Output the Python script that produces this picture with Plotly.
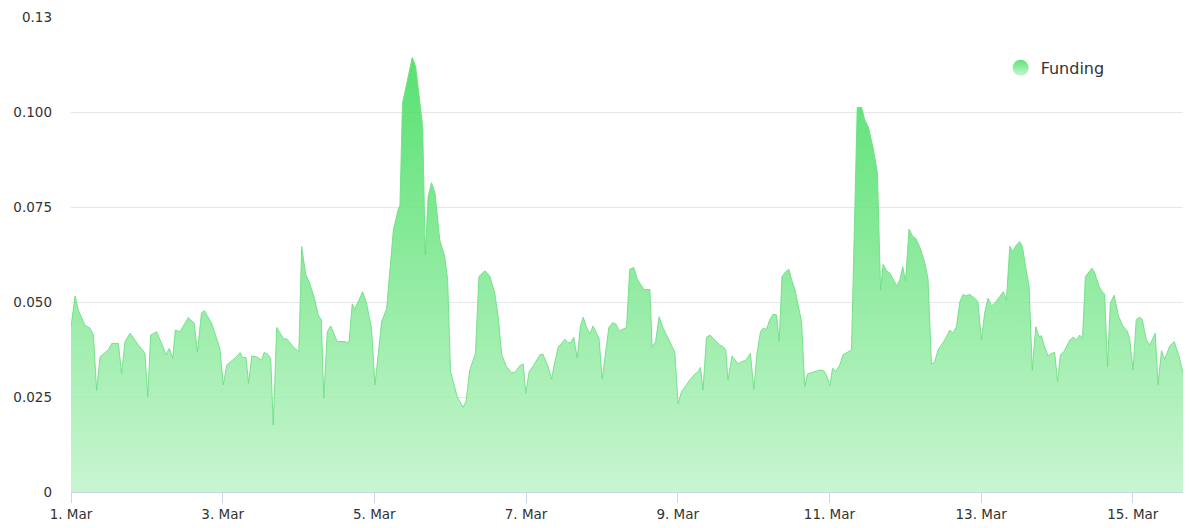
import pandas as pd
import plotly.graph_objects as go

# ---- data ----
start_date = "2024-03-01"
hours = [
    0, 1.3, 2.3, 4.4, 6.0, 7.1, 8.1, 9.2, 11.8, 12.9, 15.0, 16.0, 17.1, 18.7, 21.3, 23.4,
    24.3, 25.2, 27.1, 30.1, 31.1, 32.2, 33.0, 34.5, 37.1, 39.0, 40.0, 41.3, 42.2, 44.5, 47.1,
    48.2, 49.3, 52.4, 53.5, 54.3, 55.4, 56.2, 57.2, 58.7, 60.3, 61.1, 62.1, 63.2, 64.0, 65.1,
    67.2, 68.4, 70.3, 72.1, 73.0, 74.3, 75.4, 77.2, 78.2, 79.2, 80.0, 81.1, 82.2, 84.2, 86.7,
    87.4, 88.0, 89.0, 89.8, 92.3, 93.5, 95.1, 96.2, 98.3, 99.9, 102.0, 103.5, 104.1, 104.9,
    105.7, 106.7, 108.0, 109.1, 111.3, 112.1, 113.0, 114.1, 115.2, 116.7, 118.3, 119.2, 120.1,
    122.2, 124.1, 125.0, 126.2, 127.3, 128.0, 129.1, 131.0, 132.6, 134.1, 135.2, 136.3, 137.8,
    139.4, 140.5, 142.0, 143.1, 143.9, 145.0, 146.3, 148.4, 149.3, 151.0, 152.1, 152.8, 154.2,
    155.2, 156.3, 157.3, 158.1, 159.1, 160.2, 161.2, 162.1, 163.1, 164.2, 165.2, 167.1, 168.1,
    169.3, 170.2, 171.4, 172.4, 173.5, 174.5, 175.8, 176.8, 178.1, 179.2, 180.2, 181.3, 182.3,
    183.2, 183.9, 185.0, 186.1, 187.4, 189.0, 191.1, 192.1, 193.2, 194.8, 195.8, 197.4, 198.5,
    199.2, 200.0, 201.1, 202.2, 203.7, 205.3, 206.4, 207.2, 207.9, 209.2, 211.1, 212.2, 213.5,
    215.0, 216.1, 217.1, 218.2, 219.0, 220.1, 221.1, 222.2, 223.3, 224.1, 225.0, 226.2, 227.2,
    228.0, 229.1, 230.1, 231.2, 232.2, 233.1, 234.3, 235.9, 237.0, 238.2, 239.3, 240.1, 241.0,
    242.0, 243.3, 244.3, 245.4, 247.0, 248.8, 250.2, 251.2, 252.3, 253.9, 255.2, 256.2, 257.0,
    258.1, 259.1, 261.3, 262.3, 263.2, 264.1, 265.2, 266.4, 267.3, 268.8, 270.2, 271.2, 272.3,
    273.3, 274.4, 276.5, 278.1, 279.1, 280.2, 281.3, 282.3, 283.2, 284.4, 286.0, 287.0, 288.1,
    289.2, 290.2, 291.3, 292.3, 293.9, 295.0, 296.0, 297.1, 297.9, 299.2, 300.2, 301.1, 302.1,
    303.2, 304.2, 305.3, 306.3, 307.1, 308.1, 309.2, 310.3, 311.3, 312.2, 313.1, 314.2, 315.2,
    316.1, 317.1, 318.2, 319.2, 320.1, 321.0, 322.2, 323.1, 324.0, 325.3, 326.3, 327.1, 328.0,
    328.9, 330.1, 331.4, 332.7, 334.2, 335.0, 336.1, 337.1, 338.2, 339.0, 340.3, 341.4, 343.1,
    344.0, 345.1, 346.1, 347.7, 349.1, 350.7, 351.9,
]
funding = [
    .0435, .0516, .0479, .0439, .0431, .0413, .0267, .0356, .0374, .0391, .0391, .0312, .0396, .0418, .0387, .0365,
    .0251, .0413, .0422, .0361, .0378, .0352, .0426, .0422, .0459, .0444, .0369, .0472, .0477, .0444, .0378,
    .0282, .0334, .0356, .0367, .0354, .0354, .0286, .0358, .0356, .0347, .0367, .0364, .0352, .0176, .0433,
    .0404, .0402, .0382, .0369, .0646, .0571, .0553, .0505, .0466, .0453, .0247, .0422, .0437, .0396, .0396,
    .0393, .0396, .0495, .0481, .0527, .0498, .0431, .0282, .0448, .0483, .0689, .0742, .0755, .1023,
    .1058, .1093, .1144, .1119, .0961, .0624, .0777, .0814, .0786, .0663, .0619, .0558, .0317,
    .0251, .0223, .0238, .0321, .0352, .0365, .0567, .0582, .0567, .0523, .0461, .0361, .0330,
    .0314, .0315, .0332, .0337, .0260, .0317, .0332, .0361, .0363, .0330, .0297, .0330, .0382,
    .0391, .0402, .0393, .0393, .0407, .0352, .0437, .0460, .0435, .0416, .0437, .0404, .0297,
    .0374, .0433, .0446, .0442, .0424, .0428, .0433, .0586, .0591, .0560, .0547, .0533, .0533,
    .0533, .0382, .0396, .0461, .0431, .0404, .0367, .0232, .0264, .0282, .0295, .0310, .0317,
    .0328, .0268, .0407, .0413, .0400, .0387, .0382, .0374, .0295, .0358, .0337, .0343, .0346,
    .0365, .0270, .0365, .0422, .0431, .0428, .0453, .0468, .0466, .0396, .0567, .0580, .0586,
    .0560, .0533, .0492, .0448, .0277, .0311, .0314, .0317, .0321, .0320, .0303, .0279, .0326,
    .0317, .0334, .0361, .0367, .0374, .1012, .1012, .0979, .0961, .0904, .0839, .0532, .0599,
    .0582, .0576, .0543, .0558, .0593, .0555, .0692, .0672, .0668, .0641, .0602, .0562, .0336,
    .0343, .0374, .0400, .0426, .0418, .0435, .0501, .0520, .0516, .0520, .0510, .0501, .0400,
    .0474, .0510, .0489, .0497, .0514, .0527, .0505, .0647, .0632, .0650, .0659, .0646, .0593,
    .0540, .0321, .0435, .0409, .0411, .0382, .0358, .0365, .0367, .0290, .0361, .0369, .0387,
    .0400, .0407, .0400, .0413, .0404, .0567, .0580, .0589, .0576, .0542, .0527, .0521, .0330,
    .0497, .0518, .0466, .0439, .0424, .0404, .0321, .0454, .0460, .0454, .0400, .0387, .0418,
    .0282, .0372, .0349, .0384, .0396, .0356, .0312,
]
assert len(hours) == len(funding)

series_name = "Funding"
y_tick_vals = [0, 0.025, 0.05, 0.075, 0.1, 0.125]
y_tick_text = ["0", "0.025", "0.050", "0.075", "0.100", "0.13"]
x_tick_days = [1, 3, 5, 7, 9, 11, 13, 15]
x_tick_text = [f"{d}. Mar" for d in x_tick_days]

# ---- build ----
base = pd.Timestamp(start_date)
times = base + pd.to_timedelta(hours, unit="h")
x_tick_vals = [base + pd.Timedelta(days=d - 1) for d in x_tick_days]

FONT = "DejaVu Sans"
TEXT = "#333333"

fig = go.Figure()
fig.add_trace(go.Scatter(
    x=times, y=funding, mode="lines", name=series_name, showlegend=False,
    line=dict(color="rgba(110,222,132,0.9)", width=1),
    fill="tozeroy",
    fillgradient=dict(
        type="vertical", start=0, stop=0.1144,
        colorscale=[[0, "rgba(190,243,200,0.85)"], [1, "rgba(58,220,87,0.85)"]],
    ),
    hoverinfo="x+y",
))
# legend entry (circle marker)
fig.add_trace(go.Scatter(
    x=[None], y=[None], mode="markers", name=series_name,
    marker=dict(symbol="circle", size=16, color="rgb(95,226,118)",
                gradient=dict(type="vertical", color="rgb(200,246,210)")),
))

fig.update_layout(
    width=1195, height=528,
    margin=dict(l=71, r=12, t=17, b=36, autoexpand=False),
    paper_bgcolor="white", plot_bgcolor="white",
    font=dict(family=FONT, size=13.5, color=TEXT),
    showlegend=True,
    legend=dict(x=0.836, y=0.893, xanchor="left", yanchor="middle",
                bgcolor="rgba(0,0,0,0)", font=dict(size=16, color=TEXT, family=FONT)),
    xaxis=dict(
        type="date", automargin=False,
        range=[times[0], times[-1]],
        tickmode="array", tickvals=x_tick_vals, ticktext=x_tick_text,
        showgrid=False, zeroline=False,
        showline=True, linecolor="#ccd6eb", linewidth=1,
        ticks="outside", ticklen=10, tickcolor="#ccd6eb", tickwidth=1,
        tickfont=dict(size=13.5, color=TEXT),
        fixedrange=True,
    ),
    yaxis=dict(
        range=[0, 0.125], automargin=False,
        tickmode="array", tickvals=y_tick_vals, ticktext=y_tick_text,
        showgrid=True, gridcolor="#e6e6e6", gridwidth=1,
        zeroline=False, showline=False,
        ticks="", ticklabelstandoff=18,
        tickfont=dict(size=13.5, color=TEXT),
        fixedrange=True,
    ),
)

fig.write_html(
    "out.html",
    config={"displayModeBar": False},
    post_script="document.body.style.margin='0';document.body.style.overflow='hidden';",
)
